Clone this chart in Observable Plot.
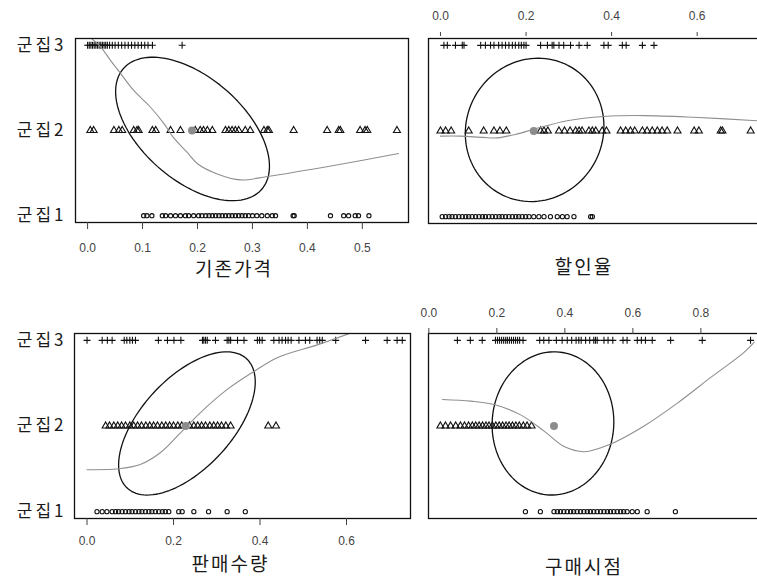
<!DOCTYPE html>
<html><head><meta charset="utf-8">
<script src="https://cdn.jsdelivr.net/npm/d3@7"></script>
<script src="https://cdn.jsdelivr.net/npm/@observablehq/plot@0.6"></script>
<style>
html,body{margin:0;padding:0;background:#fff;overflow:hidden;width:757px;height:582px;}
#wrap{position:relative;width:757px;height:582px;overflow:hidden;background:#fff;}
</style></head><body><div id="wrap"></div>
<script>
// ---- labels ----
const clusterLabels = ["군집1", "군집2", "군집3"];
const titles = ["기존가격", "할인율", "판매수량", "구매시점"];
const ticksPrice = [0, 0.1, 0.2, 0.3, 0.4, 0.5];
const ticksDiscount = [0, 0.2, 0.4, 0.6];
const ticksSales = [0, 0.2, 0.4, 0.6];
const ticksTime = [0, 0.2, 0.4, 0.6, 0.8];

// ---- 기존가격 ----
const priceC3 = [0.000, 0.003, 0.006, 0.009, 0.012, 0.015, 0.018, 0.021, 0.024, 0.027, 0.030, 0.033, 0.036, 0.040, 0.045, 0.050, 0.056, 0.062, 0.068, 0.074, 0.080, 0.086, 0.092, 0.098, 0.104, 0.110, 0.118, 0.172];
const priceC2 = [0.005, 0.011, 0.048, 0.057, 0.063, 0.084, 0.090, 0.093, 0.118, 0.124, 0.151, 0.169, 0.196, 0.205, 0.211, 0.218, 0.227, 0.251, 0.257, 0.263, 0.269, 0.275, 0.287, 0.296, 0.321, 0.327, 0.330, 0.375, 0.436, 0.457, 0.460, 0.496, 0.505, 0.509, 0.563];
const priceC1 = [0.102, 0.108, 0.117, 0.136, 0.142, 0.151, 0.160, 0.169, 0.178, 0.184, 0.193, 0.202, 0.208, 0.215, 0.221, 0.227, 0.233, 0.239, 0.245, 0.251, 0.257, 0.263, 0.269, 0.275, 0.281, 0.287, 0.293, 0.300, 0.308, 0.317, 0.327, 0.336, 0.342, 0.374, 0.376, 0.442, 0.466, 0.475, 0.487, 0.493, 0.512];
const priceSmoothX = [0.005, 0.024, 0.042, 0.060, 0.084, 0.115, 0.139, 0.156, 0.181, 0.200, 0.236, 0.278, 0.327, 0.448, 0.566];
const priceSmoothY = [3.09, 2.98, 2.82, 2.67, 2.47, 2.27, 2.08, 1.92, 1.745, 1.61, 1.49, 1.42, 1.46, 1.59, 1.73];
const priceEllipse = [0.191, 2.018, 0.140, 0.842, -0.52]; // cx, cy, sx, sy, r
const priceCenter = [0.19, 2];

// ---- 할인율 ----
const discountC3 = [0.008, 0.016, 0.035, 0.051, 0.055, 0.094, 0.105, 0.117, 0.125, 0.136, 0.144, 0.152, 0.160, 0.168, 0.175, 0.183, 0.189, 0.195, 0.200, 0.234, 0.250, 0.261, 0.265, 0.277, 0.288, 0.304, 0.324, 0.343, 0.382, 0.392, 0.425, 0.434, 0.472, 0.499];
const discountC2 = [0.000, 0.012, 0.025, 0.066, 0.101, 0.125, 0.139, 0.154, 0.234, 0.242, 0.251, 0.277, 0.290, 0.303, 0.316, 0.324, 0.331, 0.347, 0.355, 0.363, 0.378, 0.388, 0.421, 0.433, 0.444, 0.454, 0.472, 0.483, 0.495, 0.507, 0.518, 0.530, 0.554, 0.593, 0.604, 0.655, 0.659, 0.725];
const discountC1 = [0.004, 0.012, 0.020, 0.027, 0.035, 0.043, 0.051, 0.059, 0.066, 0.074, 0.082, 0.090, 0.098, 0.105, 0.113, 0.121, 0.129, 0.137, 0.144, 0.152, 0.160, 0.168, 0.176, 0.183, 0.191, 0.199, 0.207, 0.218, 0.230, 0.242, 0.257, 0.273, 0.285, 0.296, 0.312, 0.351, 0.355];
const discountSmoothX = [0.000, 0.047, 0.100, 0.133, 0.175, 0.218, 0.296, 0.382, 0.475, 0.592, 0.740];
const discountSmoothY = [1.94, 1.94, 1.925, 1.92, 1.96, 2.02, 2.12, 2.17, 2.18, 2.16, 2.12];
const discountEllipse = [0.220, 2.013, 0.162, 0.837, 0.05];
const discountCenter = [0.218, 2];

// ---- 판매수량 ----
const salesC3 = [0.000, 0.035, 0.047, 0.058, 0.086, 0.092, 0.099, 0.105, 0.112, 0.165, 0.186, 0.201, 0.217, 0.267, 0.270, 0.274, 0.278, 0.297, 0.324, 0.328, 0.332, 0.348, 0.363, 0.394, 0.399, 0.405, 0.432, 0.444, 0.451, 0.459, 0.465, 0.472, 0.490, 0.505, 0.515, 0.532, 0.538, 0.544, 0.575, 0.644, 0.694, 0.717, 0.729];
const salesC2 = [0.043, 0.052, 0.062, 0.071, 0.080, 0.089, 0.099, 0.108, 0.117, 0.126, 0.136, 0.145, 0.154, 0.163, 0.173, 0.182, 0.191, 0.200, 0.210, 0.219, 0.237, 0.247, 0.256, 0.265, 0.274, 0.284, 0.293, 0.302, 0.311, 0.321, 0.332, 0.419, 0.437];
const salesC1 = [0.023, 0.035, 0.046, 0.058, 0.066, 0.073, 0.081, 0.089, 0.097, 0.104, 0.112, 0.120, 0.127, 0.135, 0.143, 0.150, 0.158, 0.166, 0.174, 0.181, 0.189, 0.212, 0.220, 0.247, 0.281, 0.324, 0.366];
const salesSmoothX = [0.000, 0.073, 0.123, 0.170, 0.216, 0.263, 0.325, 0.387, 0.441, 0.534, 0.612];
const salesSmoothY = [1.49, 1.50, 1.55, 1.69, 1.92, 2.16, 2.43, 2.64, 2.80, 2.95, 3.09];
const salesEllipse = [0.231, 2.03, 0.158, 0.836, 0.58];
const salesCenter = [0.228, 2];

// ---- 구매시점 ----
const timeC3 = [0.084, 0.122, 0.157, 0.196, 0.202, 0.208, 0.214, 0.220, 0.226, 0.231, 0.237, 0.243, 0.249, 0.255, 0.261, 0.267, 0.277, 0.326, 0.338, 0.353, 0.375, 0.392, 0.407, 0.420, 0.433, 0.441, 0.448, 0.461, 0.473, 0.485, 0.490, 0.495, 0.515, 0.527, 0.541, 0.571, 0.583, 0.613, 0.625, 0.637, 0.657, 0.711, 0.804, 0.946];
const timeC2 = [0.034, 0.049, 0.064, 0.079, 0.093, 0.105, 0.117, 0.128, 0.138, 0.148, 0.158, 0.168, 0.177, 0.187, 0.197, 0.207, 0.217, 0.227, 0.236, 0.246, 0.256, 0.266, 0.278, 0.289, 0.302];
const timeC1 = [0.284, 0.328, 0.368, 0.378, 0.387, 0.397, 0.407, 0.417, 0.426, 0.436, 0.446, 0.456, 0.466, 0.475, 0.485, 0.495, 0.505, 0.515, 0.525, 0.534, 0.544, 0.554, 0.564, 0.573, 0.583, 0.598, 0.613, 0.642, 0.725];
const timeSmoothX = [0.040, 0.124, 0.192, 0.270, 0.339, 0.398, 0.457, 0.535, 0.633, 0.732, 0.830, 0.927, 0.957];
const timeSmoothY = [2.31, 2.29, 2.25, 2.13, 1.94, 1.76, 1.70, 1.79, 2.00, 2.27, 2.57, 2.86, 2.98];
const timeEllipse = [0.365, 2.03, 0.179, 0.836, 0.02];
const timeCenter = [0.368, 2];

const KFONT = "'Noto Sans CJK KR', 'Noto Sans', sans-serif";
const fmt = d3.format(".1f");

function ellipsePoints(e) {
  const [cx, cy, sx, sy, r] = e;
  const d = Math.acos(r);
  return d3.range(0, 361, 3).map(a => {
    const t = a * Math.PI / 180;
    return {x: cx + sx * Math.cos(t), y: cy + sy * Math.cos(t + d)};
  });
}

function makePanel(cfg) {
  const dots = (vals, c, symbol, r) => Plot.dot(vals, {x: d => d, y: () => c, symbol, r, fill: "none", stroke: "#111", strokeWidth: 1.1});
  const smooth = cfg.sx.map((x, i) => ({x, y: cfg.sy[i]}));
  const marks = [
    dots(cfg.c1, 1, "circle", 2.1),
    dots(cfg.c2, 2, "triangle", 2.6),
    dots(cfg.c3, 3, "plus", 2.4),
    Plot.line(ellipsePoints(cfg.ell), {x: "x", y: "y", stroke: "#111", strokeWidth: 1.3, clip: true}),
    Plot.line(smooth, {x: "x", y: "y", stroke: "#8f8f8f", strokeWidth: 1.1, curve: "catmull-rom", clip: true}),
    Plot.dot([cfg.center], {x: d => d[0], y: d => d[1], r: 4, fill: "#8c8c8c", stroke: "none"}),
    Plot.frame({stroke: "#111", strokeWidth: 1.3}),
    Plot.axisX({anchor: cfg.anchor, ticks: cfg.ticks, tickFormat: fmt, tickSize: cfg.tickSize, tickPadding: cfg.tickPadding, dy: cfg.axisDy || 0, fontSize: 12, color: "#444", label: null}),
    Plot.text([cfg.title], {frameAnchor: "bottom", dy: cfg.titleDy, dx: cfg.titleDx, fontSize: 19, fontFamily: KFONT, fill: "#1a1a1a"})
  ];
  if (cfg.showY) {
    marks.push(Plot.axisY({ticks: [1, 2, 3], tickFormat: d => clusterLabels[d - 1], tickSize: 0, tickPadding: cfg.yPad, fontSize: 17, fontFamily: KFONT, fill: "#1a1a1a", label: null}));
  }
  const svg = Plot.plot({
    width: cfg.width, height: cfg.height,
    marginLeft: cfg.mL, marginRight: cfg.mR, marginTop: cfg.mT, marginBottom: cfg.mB,
    x: {domain: cfg.xDomain, axis: null},
    y: {domain: [0.92, 3.08], axis: null},
    style: {background: "transparent", fontFamily: "'Liberation Sans', Arial, sans-serif"},
    marks
  });
  svg.style.position = "absolute";
  svg.style.left = cfg.left + "px";
  svg.style.top = cfg.top + "px";
  svg.style.maxWidth = "none";
  d3.select(svg).selectAll('g[aria-label="y-axis tick label"] text').style("letter-spacing", "3px");
  d3.select(svg).selectAll('g[aria-label="text"] text').style("letter-spacing", "2px");
  document.getElementById("wrap").appendChild(svg);
}

makePanel({left: 0, top: 0, width: 420, height: 290, mL: 75, mR: 12, mT: 38, mB: 68,
  xDomain: [-0.022, 0.584], anchor: "bottom", ticks: ticksPrice, tickSize: 7, tickPadding: 14,
  title: titles[0], titleDy: 53, titleDx: -8, showY: true, yPad: 9,
  c1: priceC1, c2: priceC2, c3: priceC3, sx: priceSmoothX, sy: priceSmoothY, ell: priceEllipse, center: priceCenter});

makePanel({left: 410, top: 0, width: 360, height: 290, mL: 18, mR: 7, mT: 38, mB: 67,
  xDomain: [-0.028, 0.755], anchor: "top", ticks: ticksDiscount, tickSize: 4, tickPadding: 12, axisDy: -3,
  title: titles[1], titleDy: 50, titleDx: -12, showY: false,
  c1: discountC1, c2: discountC2, c3: discountC3, sx: discountSmoothX, sy: discountSmoothY, ell: discountEllipse, center: discountCenter});

makePanel({left: 0, top: 290, width: 420, height: 292, mL: 74, mR: 10, mT: 43, mB: 64,
  xDomain: [-0.029, 0.748], anchor: "bottom", ticks: ticksSales, tickSize: 7, tickPadding: 11,
  title: titles[2], titleDy: 52, titleDx: -12, showY: true, yPad: 8,
  c1: salesC1, c2: salesC2, c3: salesC3, sx: salesSmoothX, sy: salesSmoothY, ell: salesEllipse, center: salesCenter});

makePanel({left: 410, top: 290, width: 360, height: 292, mL: 18, mR: 5, mT: 43, mB: 64,
  xDomain: [-0.001, 0.99], anchor: "top", ticks: ticksTime, tickSize: 6, tickPadding: 11,
  title: titles[3], titleDy: 55, titleDx: -13, showY: false,
  c1: timeC1, c2: timeC2, c3: timeC3, sx: timeSmoothX, sy: timeSmoothY, ell: timeEllipse, center: timeCenter});
</script>
</body></html>
